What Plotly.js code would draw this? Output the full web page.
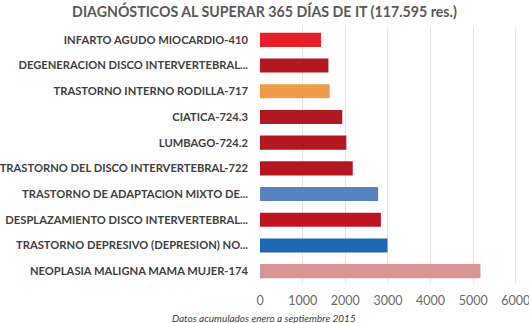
<!DOCTYPE html>
<html><head><meta charset="utf-8">
<script src="https://cdn.plot.ly/plotly-3.0.1.min.js"></script>
<style>html,body{margin:0;padding:0;background:#fff}#chart{width:529px;height:323px}</style>
</head><body><div id="chart"></div>
<script>
const categories = [
  "INFARTO AGUDO MIOCARDIO-410",
  "DEGENERACION DISCO INTERVERTEBRAL...",
  "TRASTORNO INTERNO RODILLA-717",
  "CIATICA-724.3",
  "LUMBAGO-724.2",
  "TRASTORNO DEL DISCO INTERVERTEBRAL-722",
  "TRASTORNO DE ADAPTACION MIXTO DE...",
  "DESPLAZAMIENTO DISCO INTERVERTEBRAL...",
  "TRASTORNO DEPRESIVO (DEPRESION) NO...",
  "NEOPLASIA MALIGNA MAMA MUJER-174"
];
const values = [1430, 1605, 1635, 1930, 2025, 2175, 2770, 2835, 2990, 5170];
const barColors = ["#E5202A", "#B3171F", "#EE9B4A", "#B3171F", "#B3171F", "#B3171F", "#5783C1", "#BE1520", "#1F69B4", "#D99594"];
const tickVals = [0, 1000, 2000, 3000, 4000, 5000, 6000];
const titleText = "DIAGNÓSTICOS AL SUPERAR 365 DÍAS DE IT (117.595 res.)";
const footnote = "Datos acumulados enero a septiembre 2015";

const font = "Lato, 'Open Sans', sans-serif";
Plotly.newPlot("chart", [{
  type: "bar", orientation: "h",
  x: values, y: categories,
  marker: {color: barColors},
  width: 0.55,
  hoverinfo: "none"
}], {
  width: 529, height: 323,
  margin: {l: 260, r: 11, t: 27, b: 39},
  paper_bgcolor: "#fff", plot_bgcolor: "#fff",
  font: {family: font},
  title: {text: "<b>" + titleText + "</b>", font: {family: font, size: 14.2, color: "#595959"}, x: 0.5, xanchor: "center", y: 0.963, yanchor: "middle"},
  xaxis: {range: [0, 6050], tickvals: tickVals, showgrid: true, gridcolor: "#e4e4e4", gridwidth: 1, zeroline: false,
          showline: false, tickfont: {family: font, size: 12.5, color: "#6a6a6a"}, ticks: "", ticklabelstandoff: 7,
          ticklabeloverflow: "allow", fixedrange: true},
  yaxis: {autorange: "reversed", showgrid: false, zeroline: false, showline: false, ticks: "",
          ticklabelstandoff: 11,
          tickfont: {family: font, size: 11.2, color: "#404040", weight: "bold"}, fixedrange: true},
  annotations: [{text: "<i>" + footnote + "</i>", xref: "paper", yref: "paper", x: 0.015, y: -0.103, xanchor: "center", yanchor: "top",
                 showarrow: false, font: {family: font, size: 10, color: "#404040"}}],
  showlegend: false
}, {staticPlot: true});
</script></body></html>
